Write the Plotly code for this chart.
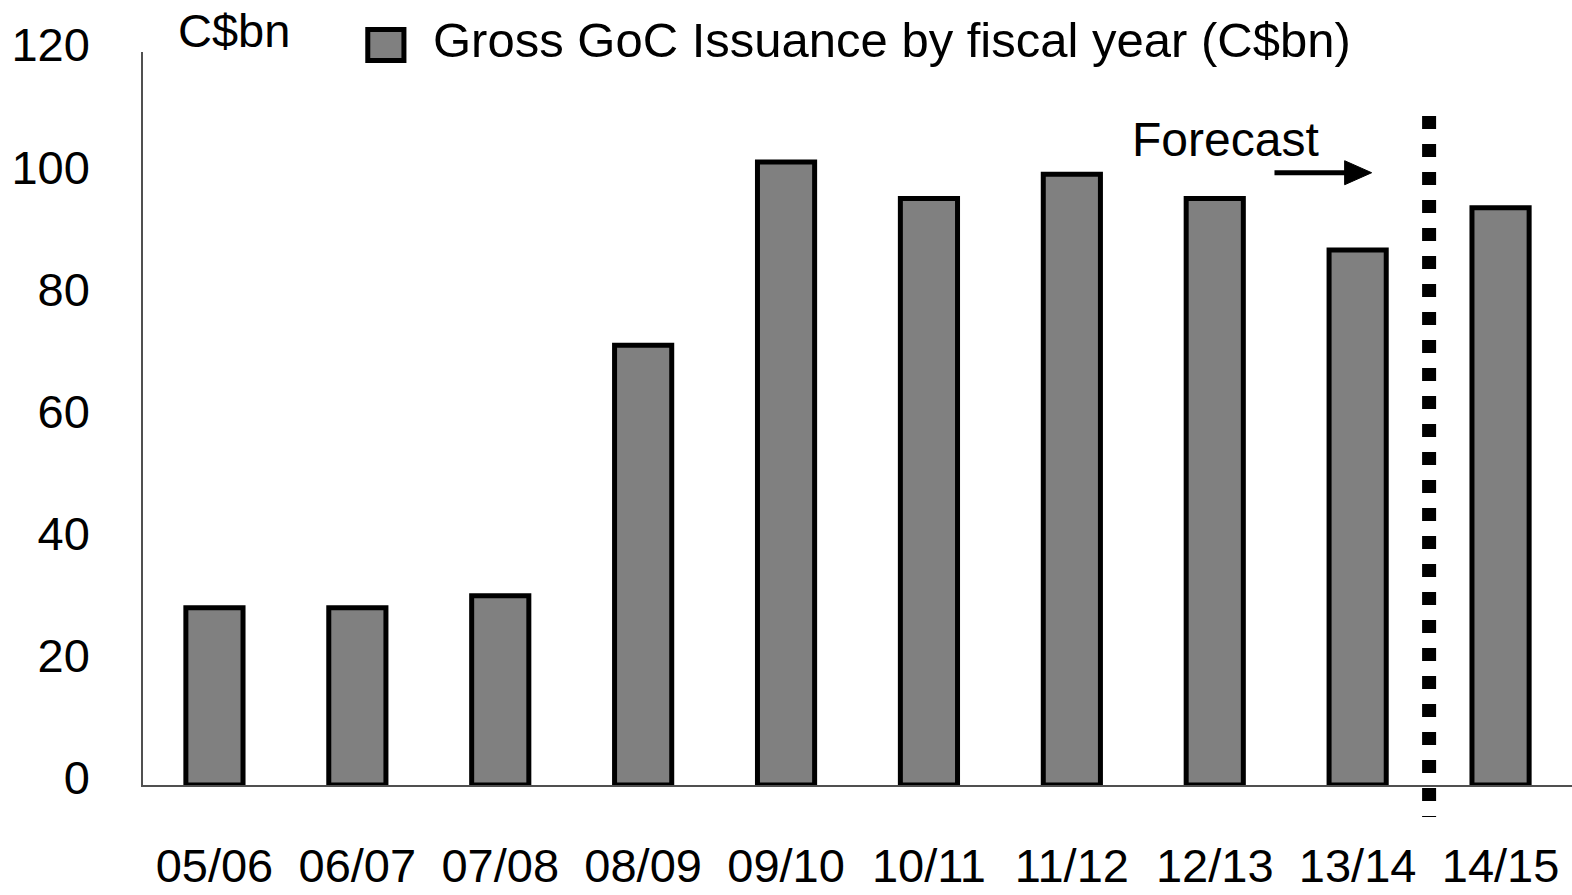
import plotly.graph_objects as go

# Gross Government of Canada issuance by fiscal year, C$bn
fiscal_years = ["05/06", "06/07", "07/08", "08/09", "09/10",
                "10/11", "11/12", "12/13", "13/14", "14/15"]
issuance = [29, 29, 31, 72, 102, 96, 100, 96, 87.6, 94.5]

y_ticks = [0, 20, 40, 60, 80, 100, 120]
series_name = "Gross GoC Issuance by fiscal year (C$bn)"

FONT = "Liberation Sans, Arial, sans-serif"
BAR_FILL = "#808080"

fig = go.Figure()
fig.add_trace(go.Bar(
    x=fiscal_years,
    y=issuance,
    name=series_name,
    width=0.40,
    marker=dict(color=BAR_FILL, line=dict(color="black", width=5)),
    showlegend=False,
))

fig.update_layout(
    width=1572,
    height=895,
    margin=dict(l=143, r=0, t=52, b=110),
    paper_bgcolor="white",
    plot_bgcolor="white",
    font=dict(family=FONT, size=47, color="black"),
    xaxis=dict(
        type="category",
        range=[-0.5, len(fiscal_years) - 0.5],
        automargin=False,
        showline=True, linecolor="#505050", linewidth=1.5,
        showgrid=False, zeroline=False, ticks="",
        ticklabelstandoff=39,
        tickfont=dict(size=47),
    ),
    yaxis=dict(
        range=[0, 120],
        tickvals=y_ticks,
        automargin=False,
        showline=True, linecolor="#505050", linewidth=1.5,
        showgrid=False, zeroline=False, ticks="",
        ticklabelstandoff=42,
        ticklabelshift=-7,
        tickfont=dict(size=47),
    ),
)

shapes = []

# forecast divider between 13/14 and 14/15
shapes.append(dict(
    type="line", xref="x domain", yref="paper",
    x0=0.9, x1=0.9, y0=0.9127, y1=-0.0437,
    line=dict(color="black", width=14, dash="13px,15px"),
))

# forecast arrow: shaft and head
shapes.append(dict(
    type="line", xref="paper", yref="paper",
    x0=0.7918, x1=0.8430, y0=0.8353, y1=0.8353,
    line=dict(color="black", width=5),
))
shapes.append(dict(
    type="path", xref="paper", yref="paper",
    xsizemode="pixel", ysizemode="pixel",
    xanchor=0.8598, yanchor=0.8353,
    path="M-27,-12 L0,0 L-27,12 Z",
    fillcolor="black", line=dict(color="black", width=1),
))

# legend swatch
shapes.append(dict(
    type="rect", xref="paper", yref="paper",
    x0=0.1573, x1=0.1826, y0=0.9884, y1=1.0307,
    fillcolor=BAR_FILL, line=dict(color="black", width=5),
))

fig.update_layout(shapes=shapes)

fig.add_annotation(
    text="C$bn", xref="paper", yref="paper",
    x=0.0231, y=1.0293, xanchor="left", yanchor="middle",
    showarrow=False, font=dict(size=47),
)
fig.add_annotation(
    text=series_name, xref="paper", yref="paper",
    x=0.2018, y=1.0164, xanchor="left", yanchor="middle",
    showarrow=False, font=dict(size=49),
)
fig.add_annotation(
    text="Forecast", xref="paper", yref="paper",
    x=0.7578, y=0.8807, xanchor="center", yanchor="middle",
    showarrow=False, font=dict(size=48),
)

fig.write_html("out.html")
